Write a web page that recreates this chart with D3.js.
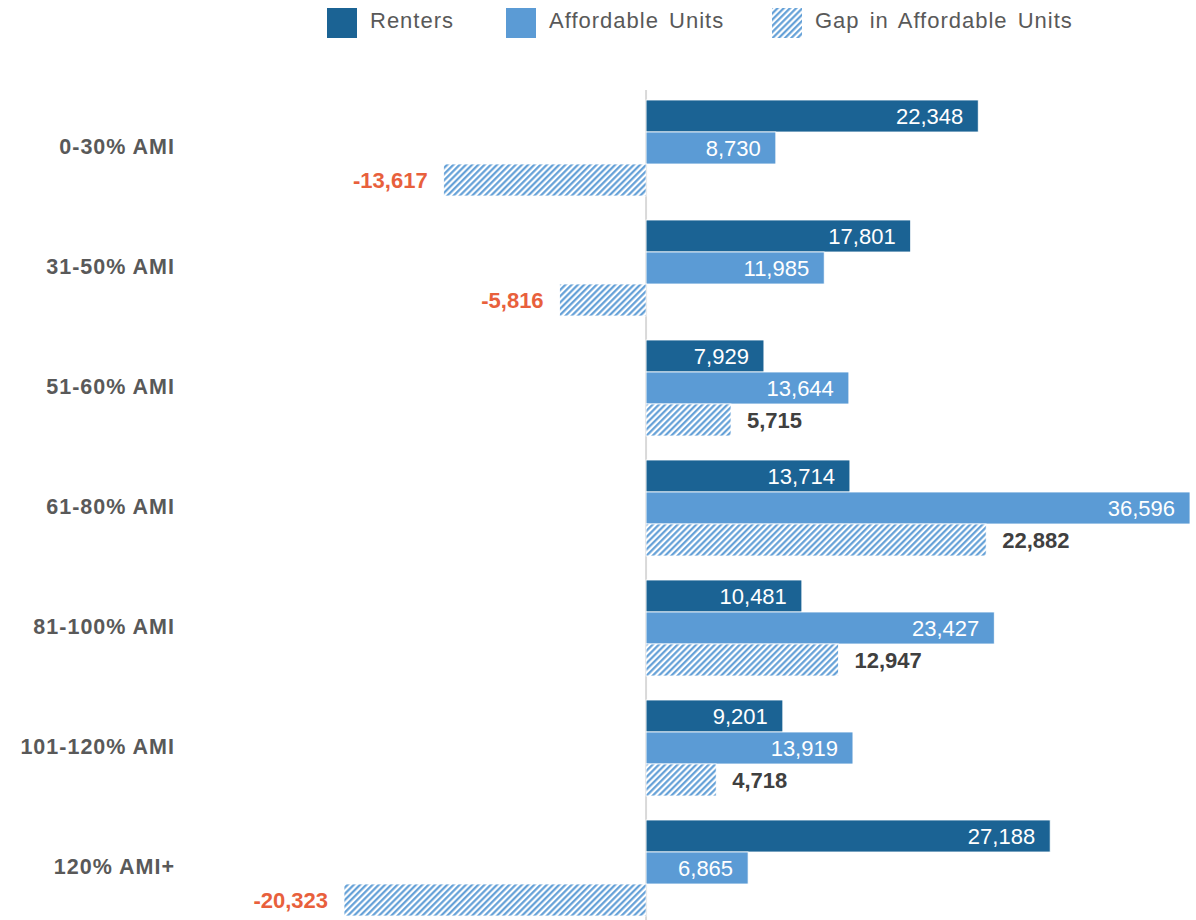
<!DOCTYPE html>
<html>
<head>
<meta charset="utf-8">
<script src="https://cdn.jsdelivr.net/npm/d3@7"></script>
<style>
  html, body { margin: 0; padding: 0; background: #fff; }
  svg { display: block; font-family: "Liberation Sans", Arial, sans-serif; }
</style>
</head>
<body>
<svg id="chart" width="1196" height="920"></svg>
<script>
// Income bands (Area Median Income)
const categories = ["0-30% AMI", "31-50% AMI", "51-60% AMI", "61-80% AMI", "81-100% AMI", "101-120% AMI", "120% AMI+"];
const seriesNames = ["Renters", "Affordable Units", "Gap in Affordable Units"];
const renters = [22348, 17801, 7929, 13714, 10481, 9201, 27188];
const affordableUnits = [8730, 11985, 13644, 36596, 23427, 13919, 6865];
const gap = [-13617, -5816, 5715, 22882, 12947, 4718, -20323];

const colors = { renters: "#1b6394", afford: "#5b9bd5", hatch: "#5b9bd5" };

const svg = d3.select("#chart");
const W = 1196, H = 920;

const rows = categories.map((c, i) => ({
  cat: c,
  values: [
    { key: "renters", name: seriesNames[0], v: renters[i] },
    { key: "afford", name: seriesNames[1], v: affordableUnits[i] },
    { key: "gap", name: seriesNames[2], v: gap[i] }
  ]
}));

const allVals = renters.concat(affordableUnits, gap);
const x = d3.scaleLinear().domain([d3.min(allVals), d3.max(allVals)]).range([344, 1190]);
const y = d3.scaleBand().domain(categories).range([88, 928]).paddingInner(0.2).paddingOuter(0.1);
const ySub = d3.scaleBand().domain(["renters", "afford", "gap"]).range([0, y.bandwidth()]);

// diagonal hatch fill
const defs = svg.append("defs");
const pat = defs.append("pattern")
  .attr("id", "hatch")
  .attr("patternUnits", "userSpaceOnUse")
  .attr("width", 4.4).attr("height", 4.4)
  .attr("patternTransform", "rotate(45)");
pat.append("rect").attr("width", 4.4).attr("height", 4.4).attr("fill", "#fff");
pat.append("line").attr("x1", 1.2).attr("y1", 0).attr("x2", 1.2).attr("y2", 4.4)
  .attr("stroke", colors.hatch).attr("stroke-width", 2.1);

const fillFor = k => k === "gap" ? "url(#hatch)" : colors[k];

// zero line
svg.append("line")
  .attr("x1", x(0)).attr("x2", x(0))
  .attr("y1", 90).attr("y2", H)
  .attr("stroke", "#d9d9d9").attr("stroke-width", 2);

const g = svg.append("g");
const groups = g.selectAll("g.row").data(rows).join("g")
  .attr("class", "row")
  .attr("transform", d => `translate(0,${y(d.cat)})`);

groups.selectAll("rect").data(d => d.values).join("rect")
  .attr("x", d => Math.min(x(0), x(d.v)))
  .attr("y", d => ySub(d.key))
  .attr("width", d => Math.abs(x(d.v) - x(0)))
  .attr("height", ySub.bandwidth())
  .attr("fill", d => fillFor(d.key))
  .attr("stroke", "#fff").attr("stroke-width", 0.8);

const fmt = d3.formatLocale({ decimal: ".", thousands: ",", grouping: [3], currency: ["", ""], minus: "-" }).format(",");

// value labels
groups.selectAll("text.val").data(d => d.values).join("text")
  .attr("class", "val")
  .attr("y", d => ySub(d.key) + ySub.bandwidth() / 2)
  .attr("dy", "0.36em")
  .attr("font-size", 22)
  .each(function (d) {
    const t = d3.select(this);
    if (d.key !== "gap") {
      t.attr("x", x(d.v) - 15).attr("text-anchor", "end").attr("fill", "#fff");
    } else if (d.v < 0) {
      t.attr("x", x(d.v) - 16).attr("text-anchor", "end")
        .attr("fill", "#e8603c").attr("font-weight", "bold");
    } else {
      t.attr("x", x(d.v) + 16).attr("text-anchor", "start")
        .attr("fill", "#404040").attr("font-weight", "bold");
    }
  })
  .text(d => fmt(d.v));

// category labels
g.selectAll("text.cat").data(categories).join("text")
  .attr("class", "cat")
  .attr("x", 175)
  .attr("y", d => y(d) + y.bandwidth() / 2 - 2)
  .attr("dy", "0.36em")
  .attr("text-anchor", "end")
  .attr("font-size", 21.5)
  .attr("font-weight", "bold")
  .attr("letter-spacing", "1px")
  .attr("fill", "#595959")
  .text(d => d);

// legend
const legendItems = [
  { key: "renters", name: seriesNames[0], sx: 327, tx: 370 },
  { key: "afford", name: seriesNames[1], sx: 506, tx: 549 },
  { key: "gap", name: seriesNames[2], sx: 772, tx: 815 }
];
const lg = svg.append("g").attr("class", "legend");
lg.selectAll("rect").data(legendItems).join("rect")
  .attr("x", d => d.sx).attr("y", 8)
  .attr("width", 30).attr("height", 30)
  .attr("fill", d => fillFor(d.key));
lg.selectAll("text").data(legendItems).join("text")
  .attr("x", d => d.tx).attr("y", 20.5).attr("dy", "0.36em")
  .attr("font-size", 22)
  .attr("letter-spacing", "1px")
  .attr("word-spacing", "3px")
  .attr("fill", "#595959")
  .text(d => d.name);
</script>
</body>
</html>
